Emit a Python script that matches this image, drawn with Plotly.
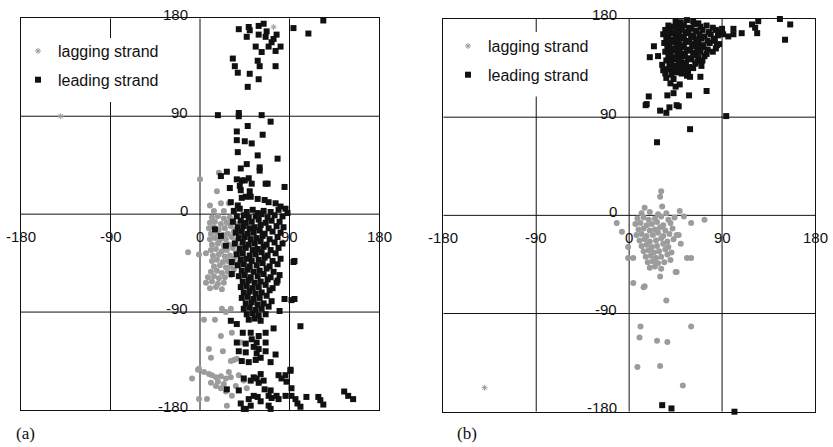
import plotly.graph_objects as go

# ---------------------------------------------------------------------------
# Dihedral angle pairs (degrees) for the two strands, panels (a) and (b)
# ---------------------------------------------------------------------------
ticks = [-180, -90, 0, 90, 180]
tick_text = ["-180", "-90", "0", "90", "180"]
series_names = ["lagging strand", "leading strand"]
panel_tags = ["(a)", "(b)"]

# panel (a): leading strand
a_leading_top = [
    [39, 170], [49, 172], [50, 169], [59, 173], [64, 175], [67, 168], [59, 165], [47, 163],
    [77, 165], [74, 161], [66, 163], [72, 158], [69, 154], [81, 154], [56, 154], [76, 150],
    [62, 149], [33, 143], [58, 141], [35, 136], [60, 136], [76, 136], [38, 130], [50, 129],
    [59, 124], [48, 117], [94, 171], [109, 166], [124, 178],
    [18, 91], [39, 93], [39, 90], [62, 91], [71, 85], [48, 81], [37, 76], [63, 73], [37, 68],
    [45, 67], [52, 65], [38, 57], [58, 54], [78, 51], [47, 46], [41, 42], [60, 43], [60, 40],
    [27, 39], [21, 35], [37, 32], [42, 31], [45, 31], [49, 33], [66, 28], [68, 28], [85, 25],
    [40, 26], [30, 24], [52, 28], [41, 22], [50, 21], [46, 16], [42, 15], [51, 16], [58, 14],
    [65, 13], [69, 11], [76, 10], [81, 7], [86, 5], [38, 8], [31, 11],
]
a_leading_core = [
    [34, 3], [40, 5], [47, 2], [53, 4], [58, 1], [64, 3], [71, 2], [79, 4], [88, 1],
    [37, -2], [44, -1], [49, -3], [56, -2], [62, 0], [68, -3], [75, -1], [83, -2],
    [33, -7], [41, -6], [46, -8], [52, -7], [59, -5], [66, -8], [72, -6], [80, -7],
    [38, -12], [44, -11], [50, -13], [55, -12], [61, -10], [69, -13], [77, -11], [84, -12],
    [36, -17], [42, -16], [48, -18], [54, -17], [60, -15], [65, -18], [73, -16], [81, -17],
    [39, -22], [45, -21], [51, -23], [57, -22], [63, -20], [70, -23], [78, -21],
    [35, -27], [43, -26], [49, -28], [55, -27], [61, -25], [67, -28], [75, -26], [83, -27],
    [40, -32], [46, -31], [53, -33], [58, -32], [64, -30], [71, -33], [79, -31],
    [37, -37], [43, -36], [50, -38], [56, -37], [62, -35], [68, -38], [76, -36],
    [41, -42], [47, -41], [52, -43], [59, -42], [65, -40], [73, -43], [81, -41],
    [38, -47], [44, -46], [50, -48], [57, -47], [63, -45], [70, -48], [78, -46],
    [42, -52], [48, -51], [54, -53], [60, -52], [67, -50], [74, -53],
    [39, -57], [45, -56], [51, -58], [58, -57], [64, -55], [71, -58], [80, -56],
    [43, -62], [49, -61], [55, -63], [61, -62], [68, -60], [77, -63],
    [41, -67], [47, -66], [53, -68], [59, -67], [66, -65], [73, -68],
    [44, -72], [50, -71], [56, -73], [62, -72], [70, -70],
    [42, -77], [48, -76], [54, -78], [60, -77], [67, -75],
    [46, -82], [52, -81], [58, -83], [64, -82], [72, -80],
    [44, -87], [50, -86], [56, -88], [62, -87], [69, -85], [80, -89],
    [47, -92], [53, -91], [59, -93], [66, -92],
    [49, -97], [55, -96], [61, -98],
    [95, -43], [85, -78], [95, -78], [78, -61], [92, -79], [94, -44],
    [15, -14], [26, -29], [32, -44], [32, -55], [21, -20],
]
a_leading_low = [
    [31, -98], [37, -101], [43, -109], [51, -109], [59, -112], [66, -109], [74, -105],
    [52, -115], [57, -118], [66, -118], [37, -118], [46, -119], [39, -126], [46, -127],
    [54, -122], [59, -124], [66, -126], [57, -128], [61, -132], [76, -129], [42, -135],
    [49, -136], [56, -134], [71, -136], [101, -103], [91, -144], [86, -148], [79, -148],
    [54, -150], [57, -151], [61, -147], [64, -153], [44, -151], [51, -153], [59, -155],
    [82, -151], [87, -154], [27, -161], [39, -162], [65, -161], [71, -162], [92, -160],
    [49, -170], [54, -167], [58, -168], [69, -167], [72, -169], [77, -167], [79, -170],
    [86, -167], [92, -167], [96, -170], [98, -174], [101, -177], [107, -168], [119, -168],
    [121, -171], [124, -175], [145, -163], [149, -167], [154, -170], [41, -174], [46, -179],
    [51, -176], [61, -172], [69, -176], [71, -179], [44, -179], [91, -143],
]

# panel (a): lagging strand
a_lagging = [
    [12, -3], [18, -2], [24, -4], [30, -3],
    [10, -8], [15, -7], [21, -9], [27, -8], [33, -6], [38, -9],
    [9, -13], [14, -12], [19, -14], [25, -13], [31, -11], [36, -14],
    [11, -18], [17, -17], [23, -19], [28, -18], [34, -16], [40, -19],
    [10, -23], [15, -22], [20, -24], [26, -23], [32, -21], [37, -24],
    [12, -28], [18, -27], [24, -29], [29, -28], [35, -26], [41, -29],
    [11, -33], [16, -32], [22, -34], [27, -33], [33, -31], [39, -34],
    [13, -38], [19, -37], [25, -39], [30, -38], [36, -36], [42, -39],
    [12, -43], [17, -42], [23, -44], [28, -43], [34, -41], [40, -44],
    [14, -48], [20, -47], [26, -49], [31, -48], [37, -46],
    [11, -53], [17, -52], [22, -54], [28, -53], [34, -51],
    [8, -58], [14, -57], [19, -59], [25, -58], [31, -56],
    [6, -63], [12, -62], [18, -64], [24, -63],
    [10, -68], [16, -67], [22, -69],
    [0, 32], [17, 21], [19, 38], [10, 8], [21, 10], [29, 10], [24, 3], [14, 3],
    [-12, -35], [-1, -37], [6, -36],
    [4, -97], [15, -97], [21, -112], [32, -109], [9, -124], [23, -126], [11, -132],
    [31, -135], [34, -134], [37, -133], [41, -118], [-1, -142], [4, -145], [9, -147],
    [12, -148], [16, -150], [21, -149], [26, -151], [31, -150], [29, -145], [-8, -151],
    [11, -155], [16, -158], [21, -160], [26, -163], [32, -167], [39, -148], [44, -153],
    [47, -160], [7, -170], [27, -176], [22, -87], [31, -87], [26, -90], [-1, -170],
    [-2, -143], [36, -158], [18, -154], [24, -156],
]
a_lagging_marked = [[-140, 90], [74, 172]]

# panel (b): leading strand
b_leading = [
    [45, 178], [50, 177], [56, 179], [62, 178], [67, 176],
    [38, 174], [43, 173], [48, 175], [53, 174], [58, 172], [63, 175], [69, 173], [75, 174], [81, 172],
    [35, 170], [40, 169], [46, 171], [51, 170], [55, 168], [60, 171], [65, 169], [71, 170], [77, 168],
    [84, 170],
    [33, 166], [38, 165], [43, 167], [48, 166], [53, 164], [57, 167], [62, 165], [68, 166], [73, 164],
    [79, 166], [86, 165],
    [36, 162], [41, 161], [45, 163], [50, 162], [55, 160], [60, 163], [65, 161], [70, 162], [76, 160],
    [82, 162],
    [34, 158], [39, 157], [44, 159], [48, 158], [53, 156], [58, 159], [63, 157], [67, 158], [72, 156],
    [78, 158], [87, 157],
    [37, 154], [42, 153], [46, 155], [51, 154], [56, 152], [61, 155], [66, 153], [71, 154], [76, 152],
    [84, 153],
    [35, 150], [40, 149], [45, 151], [49, 150], [54, 148], [59, 151], [64, 149], [69, 150], [75, 148],
    [81, 150],
    [38, 146], [43, 145], [47, 147], [52, 146], [57, 144], [62, 147], [67, 145], [73, 146],
    [36, 142], [41, 141], [46, 143], [50, 142], [55, 140], [60, 143], [66, 141], [71, 142],
    [39, 138], [44, 137], [48, 139], [53, 138], [58, 136], [64, 139], [70, 137],
    [37, 134], [42, 133], [47, 135], [52, 134], [57, 132], [62, 135],
    [35, 130], [41, 129], [46, 131], [51, 130], [56, 128],
    [24, 155], [20, 145], [28, 146], [32, 138], [33, 133], [36, 126], [43, 125], [59, 127],
    [69, 127], [40, 121], [45, 118], [49, 120], [75, 114], [19, 109], [37, 110], [43, 112],
    [58, 110], [17, 102], [30, 96], [39, 99], [48, 100], [16, 101], [36, 94], [46, 101],
    [94, 91], [59, 79], [27, 67],
    [88, 168], [91, 166], [96, 164], [101, 166], [101, 171], [109, 167], [119, 175], [122, 172],
    [124, 167], [125, 178], [146, 180], [156, 175], [151, 161], [85, 156], [83, 160], [90, 171],
    [32, -174], [41, -177], [102, -180],
]

# panel (b): lagging strand
b_lagging = [
    [12, 2], [20, 3], [28, 1], [36, 2],
    [8, -3], [14, -2], [19, -4], [25, -3], [31, -1], [38, -4], [44, -2],
    [6, -8], [11, -7], [17, -9], [22, -8], [27, -6], [33, -9], [40, -7],
    [9, -13], [14, -12], [20, -14], [25, -13], [30, -11], [35, -14], [42, -12],
    [7, -18], [12, -17], [17, -19], [23, -18], [28, -16], [33, -19], [39, -17], [46, -18],
    [10, -23], [15, -22], [20, -24], [26, -23], [31, -21], [37, -24], [43, -22],
    [12, -28], [17, -27], [22, -29], [27, -28], [33, -26], [38, -29],
    [14, -33], [19, -32], [24, -34], [29, -33], [35, -31], [41, -34],
    [16, -38], [21, -37], [26, -39], [31, -38], [37, -36],
    [18, -43], [23, -42], [28, -44], [34, -43],
    [20, -48], [25, -47], [31, -49],
    [31, 22], [30, 17], [15, 7], [32, 8], [49, 4], [60, -7], [73, -4], [-12, -7], [-7, -15],
    [53, -1], [48, -18], [50, -26], [56, -39], [60, -39], [40, -41], [46, -52], [30, -56],
    [14, -66], [4, -62], [-1, -29], [-1, -39], [4, -39], [36, -78], [15, -65], [45, -52],
    [11, -102], [60, -102], [10, -112], [27, -115], [37, -116], [8, -139], [30, -138],
    [52, -156],
]
b_lagging_marked = [[-140, -158]]

# ---------------------------------------------------------------------------
FONT = "Arial, Liberation Sans, sans-serif"
GRAY = "#9c9c9c"
INK = "#111111"


def xs(points):
    return [p[0] for p in points]


def ys(points):
    return [p[1] for p in points]


fig = go.Figure()

panels = [
    dict(xa="x", ya="y", legend="legend",
         lag=a_lagging, lag_mark=a_lagging_marked,
         lead=a_leading_top + a_leading_core + a_leading_low),
    dict(xa="x2", ya="y2", legend="legend2",
         lag=b_lagging, lag_mark=b_lagging_marked, lead=b_leading),
]

for i, p in enumerate(panels):
    fig.add_trace(go.Scatter(
        x=xs(p["lag"]), y=ys(p["lag"]), xaxis=p["xa"], yaxis=p["ya"],
        mode="markers", name=series_names[0], legendgroup=f"lag{i}",
        legend=p["legend"], showlegend=False, cliponaxis=False,
        marker=dict(symbol="circle", size=6, color=GRAY, line=dict(width=0)),
    ))
    fig.add_trace(go.Scatter(
        x=xs(p["lag_mark"]), y=ys(p["lag_mark"]), xaxis=p["xa"], yaxis=p["ya"],
        mode="markers", name=series_names[0], legendgroup=f"lag{i}",
        legend=p["legend"], showlegend=True, cliponaxis=False,
        marker=dict(symbol="asterisk-open", size=5, color=GRAY,
                    line=dict(width=1, color="#777777")),
    ))
    fig.add_trace(go.Scatter(
        x=xs(p["lead"]), y=ys(p["lead"]), xaxis=p["xa"], yaxis=p["ya"],
        mode="markers", name=series_names[1], legendgroup=f"lead{i}",
        legend=p["legend"], showlegend=True, cliponaxis=False,
        marker=dict(symbol="square", size=6, color=INK, line=dict(width=0)),
    ))

# axis boxes
W, H = 833, 447
axis_common = dict(range=[-180, 180], showgrid=False, zeroline=False,
                   showticklabels=False, ticks="", showline=True, mirror=True,
                   linecolor="#111111", linewidth=1, fixedrange=True)
fig.update_layout(
    xaxis=dict(domain=[21 / W, 379 / W], anchor="y", **axis_common),
    yaxis=dict(domain=[1 - 410 / H, 1 - 18.3 / H], anchor="x", **axis_common),
    xaxis2=dict(domain=[443.3 / W, 815 / W], anchor="y2", **axis_common),
    yaxis2=dict(domain=[1 - 411.7 / H, 1 - 19 / H], anchor="x2", **axis_common),
)

# internal reference lines and the white panel behind each legend
shapes = []
for xa, ya, blank in [("x", "y", (-161, -36, 103, 162)), ("x2", "y2", (-156, -38, 109, 168))]:
    for t in ticks[1:-1]:
        shapes.append(dict(type="line", xref=xa, yref=ya, x0=t, x1=t, y0=-180, y1=180,
                           line=dict(color="#111111", width=1), layer="below"))
        shapes.append(dict(type="line", xref=xa, yref=ya, x0=-180, x1=180, y0=t, y1=t,
                           line=dict(color="#111111", width=1), layer="below"))
    shapes.append(dict(type="rect", xref=xa, yref=ya, x0=blank[0], x1=blank[1],
                       y0=blank[2], y1=blank[3], fillcolor="white",
                       line=dict(width=0), layer="below"))
fig.update_layout(shapes=shapes)

# tick labels placed along the zero lines
annotations = []
for xa, ya in [("x", "y"), ("x2", "y2")]:
    for t, s in zip(ticks, tick_text):
        annotations.append(dict(x=t, y=0, xref=xa, yref=ya, text=s, showarrow=False,
                                xanchor="center", yanchor="middle", yshift=-22,
                                font=dict(family=FONT, size=15, color="#111111")))
        annotations.append(dict(x=0, y=t, xref=xa, yref=ya, text=s, showarrow=False,
                                xanchor="right", yanchor="middle", xshift=-10, yshift=4,
                                font=dict(family=FONT, size=15, color="#111111")))
for tag, px in zip(panel_tags, [25, 467]):
    annotations.append(dict(x=px / W, y=1 - 433 / H, xref="paper", yref="paper", text=tag,
                            showarrow=False, xanchor="center", yanchor="middle",
                            font=dict(family="Liberation Serif, Times New Roman, serif",
                                      size=17, color="#111111")))
fig.update_layout(annotations=annotations)

legend_style = dict(xanchor="left", yanchor="top", bgcolor="rgba(0,0,0,0)",
                    borderwidth=0, traceorder="grouped", tracegroupgap=5,
                    itemsizing="trace",
                    font=dict(family=FONT, size=16, color="#111111"))
fig.update_layout(
    legend=dict(x=18 / W, y=1 - 34 / H, **legend_style),
    legend2=dict(x=448 / W, y=1 - 29 / H, **legend_style),
)

fig.update_layout(
    width=W, height=H,
    margin=dict(l=0, r=0, t=0, b=0),
    paper_bgcolor="white", plot_bgcolor="white",
)

fig.write_html("out.html")
